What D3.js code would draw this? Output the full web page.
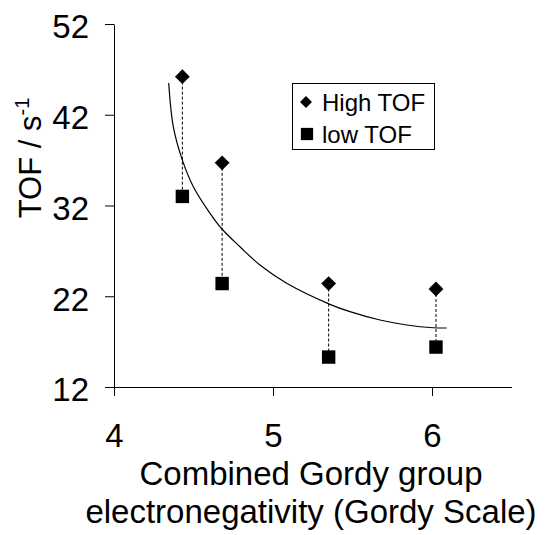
<!DOCTYPE html>
<html><head><meta charset="utf-8">
<script src="https://cdn.jsdelivr.net/npm/d3@7/dist/d3.min.js"></script>
<style>
body{margin:0;background:#fff;}
text{font-family:"Liberation Sans",Arial,sans-serif;fill:#000;}
</style></head>
<body>
<svg id="chart" width="545" height="535"></svg>
<script>
// ---- data ----
const xValues = [4.43, 4.68, 5.35, 6.025];
const highTOF = [46.2, 36.7, 23.4, 22.8];
const lowTOF  = [33.0, 23.4, 15.3, 16.4];
// trend curve
const trendX = [4.344, 4.373, 4.430, 4.499, 4.604, 4.679, 4.792, 4.918, 5.086, 5.358, 5.484, 5.673, 5.841, 6.008, 6.092];
const trendY = [45.5, 40.7, 37.0, 34.07, 31.14, 29.41, 27.46, 25.44, 23.43, 21.11, 20.30, 19.38, 18.83, 18.53, 18.5];
const xTicks = [4, 5, 6];
const yTicks = [12, 22, 32, 42, 52];
const seriesNames = ["High TOF", "low TOF"];

const FONT = "Liberation Sans, Arial, sans-serif";
const svg = d3.select("#chart");
const x = d3.scaleLinear().domain([4, 6.5]).range([114, 511.5]);
const y = d3.scaleLinear().domain([12, 52]).range([387, 24]);

// axes
svg.append("g").attr("transform","translate(0,387)")
  .call(d3.axisBottom(x).tickValues(xTicks).tickFormat(d3.format("d")).tickSize(9).tickSizeOuter(0).tickPadding(28))
  .call(g=>{g.selectAll("path,line").attr("stroke","#000");g.selectAll("text").attr("font-size",33).attr("font-family",FONT);});
svg.append("g").attr("transform","translate(114,0)")
  .call(d3.axisLeft(y).tickValues(yTicks).tickSize(9).tickSizeOuter(0).tickPadding(16))
  .call(g=>{g.selectAll("path,line").attr("stroke","#000");g.selectAll("text").attr("font-size",33).attr("font-family",FONT).attr("dy","0.42em");});

// trend curve
const pts = trendX.map((d,i)=>[d,trendY[i]]);
svg.append("path").datum(pts)
  .attr("d", d3.line().x(d=>x(d[0])).y(d=>y(d[1])).curve(d3.curveCatmullRom))
  .attr("fill","none").attr("stroke","#000").attr("stroke-width",1.2);

// dashed connectors
svg.selectAll(".conn").data(xValues).enter().append("line")
  .attr("x1",d=>x(d)).attr("x2",d=>x(d))
  .attr("y1",(d,i)=>y(highTOF[i])).attr("y2",(d,i)=>y(lowTOF[i]))
  .attr("stroke","#000").attr("stroke-width",1).attr("stroke-dasharray","3,2");

// markers
svg.selectAll(".hi").data(xValues).enter().append("path")
  .attr("d", d3.symbol().type(d3.symbolSquare).size(110))
  .attr("transform",(d,i)=>`translate(${x(d)},${y(highTOF[i])}) rotate(45)`)
  .attr("fill","#000");
svg.selectAll(".lo").data(xValues).enter().append("path")
  .attr("d", d3.symbol().type(d3.symbolSquare).size(180))
  .attr("transform",(d,i)=>`translate(${x(d)},${y(lowTOF[i])})`)
  .attr("fill","#000");

// legend
const lg = svg.append("g");
lg.append("rect").attr("x",292.5).attr("y",83.5).attr("width",142).attr("height",66)
  .attr("fill","#fff").attr("stroke","#000").attr("stroke-width",1);
lg.append("path").attr("d", d3.symbol().type(d3.symbolSquare).size(72))
  .attr("transform","translate(306,102) rotate(45)").attr("fill","#000");
lg.append("path").attr("d", d3.symbol().type(d3.symbolSquare).size(150))
  .attr("transform","translate(307,134)").attr("fill","#000");
lg.append("text").attr("x",322).attr("y",110.5).attr("font-size",24).text(seriesNames[0]);
lg.append("text").attr("x",322).attr("y",142.5).attr("font-size",24).text(seriesNames[1]);

// axis titles
svg.append("text").attr("x",311).attr("y",485).attr("text-anchor","middle").attr("font-size",33).text("Combined Gordy group");
svg.append("text").attr("x",311).attr("y",523).attr("text-anchor","middle").attr("font-size",33).text("electronegativity (Gordy Scale)");
const yl = svg.append("text").attr("transform","translate(41,158) rotate(-90)").attr("text-anchor","middle").attr("font-size",31);
yl.append("tspan").text("TOF / s");
yl.append("tspan").attr("font-size",20).attr("dy",-12).text("-1");
</script>
</body></html>
